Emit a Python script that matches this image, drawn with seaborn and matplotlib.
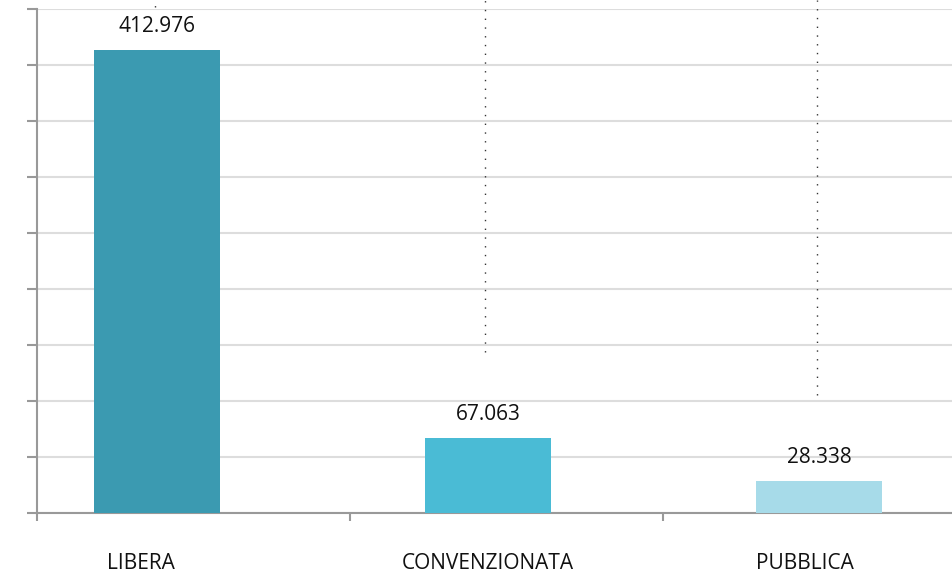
import matplotlib
matplotlib.use("Agg")
import matplotlib.pyplot as plt
import seaborn as sns
import pandas as pd

categories = ["LIBERA", "CONVENZIONATA", "PUBBLICA"]
values = [412976, 67063, 28338]
colors = ["#3B9AB1", "#4ABBD5", "#A7DBE9"]
value_labels = ["412.976", "67.063", "28.338"]

sns.set_theme(style="white")
plt.rcParams["font.family"] = ["Open Sans", "DejaVu Sans"]

df = pd.DataFrame({"categoria": categories, "valore": values})

fig = plt.figure(figsize=(9.52, 5.75), dpi=100)
ax = fig.add_axes([37 / 952, 62 / 575, 1 - 37 / 952, 504 / 575])

sns.barplot(data=df, x="categoria", y="valore", hue="categoria",
            palette=colors, order=categories, width=0.38,
            legend=False, ax=ax, zorder=3, saturation=1, linewidth=0)

ax.set_ylim(0, 450000)
ax.set_xlim(-0.3625, 2.4018)
ax.set_yticks(range(0, 450001, 50000))
ax.set_yticklabels([])
ax.yaxis.grid(True, color="#dddddd", linewidth=1.5, zorder=0)
ax.xaxis.grid(False)

# major ticks mark group boundaries, minor ticks carry the category names
ax.set_xticks([-0.3625, 0.583, 1.529])
ax.set_xticklabels([])
ax.set_xticks([-0.048, 1.0, 1.958], minor=True)
ax.set_xticklabels(categories, minor=True, fontsize=15, color="#111111")
ax.tick_params(axis="x", which="minor", length=0, pad=28.5)
ax.tick_params(axis="x", which="major", length=6, width=1.5, color="#999999",
               direction="out", bottom=True)
ax.tick_params(axis="y", length=7, width=1.5, color="#999999",
               direction="out", left=True)
ax.set_xlabel("")
ax.set_ylabel("")

for side in ["top", "right"]:
    ax.spines[side].set_visible(False)
for side in ["left", "bottom"]:
    ax.spines[side].set_color("#999999")
    ax.spines[side].set_linewidth(1.5)

# value labels above bars
for i, (v, lab) in enumerate(zip(values, value_labels)):
    ax.annotate(lab, (i, v), xytext=(0, 13), textcoords="offset points",
                ha="center", va="baseline", fontsize=15, color="#111111")

# dotted leader lines
leaders = [(-0.006, 452000), (0.991, 143750), (1.994, 105400)]
for x, y0 in leaders:
    ax.plot([x, x], [y0, 458000], color="#333333", linewidth=1,
            linestyle=(0, (1, 5.3)), clip_on=False, zorder=4)

fig.savefig("out.png", dpi=100)
